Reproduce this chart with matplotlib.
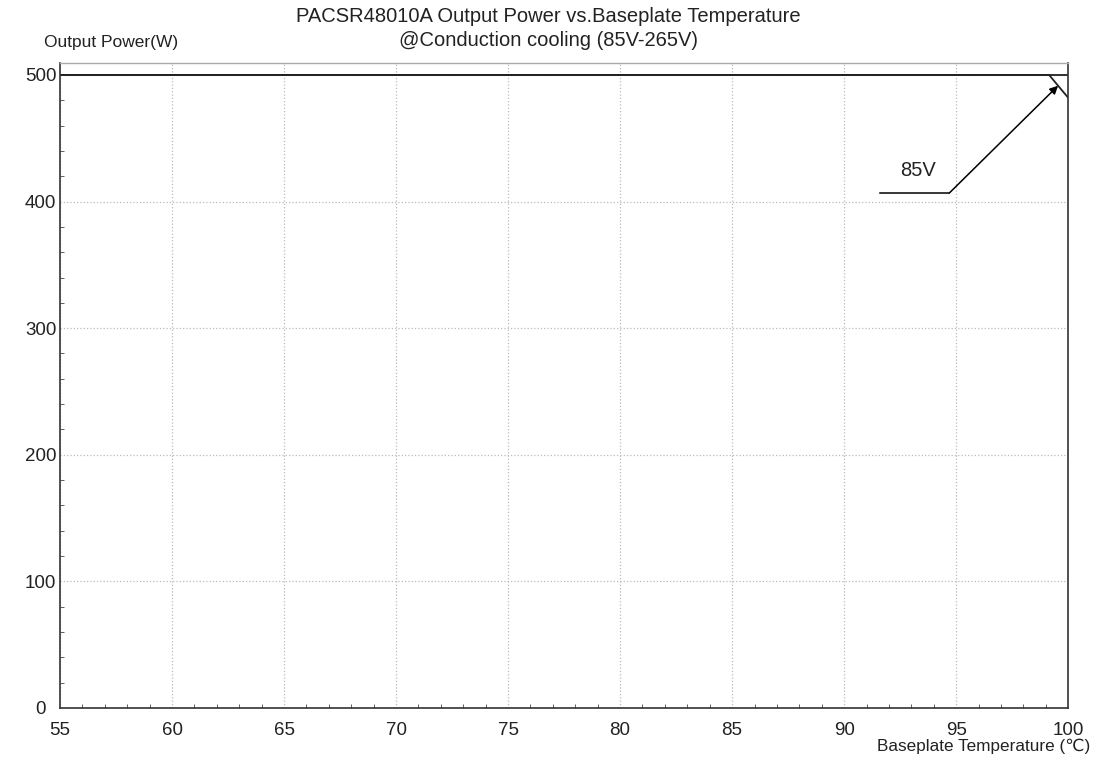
import matplotlib
matplotlib.use("Agg")
import matplotlib.pyplot as plt
from matplotlib.ticker import MultipleLocator

plt.rcParams['font.family'] = ['Liberation Sans', 'DejaVu Sans', 'Noto Sans CJK SC']

# derating data
temp_265 = [55, 100]
power_265 = [500, 500]
temp_85 = [55, 99.15, 100]
power_85 = [500, 500, 482]

title = "PACSR48010A Output Power vs.Baseplate Temperature\n@Conduction cooling (85V-265V)"
ylabel = "Output Power(W)"
xlabel = "Baseplate Temperature (\u2103)"

fig = plt.figure(figsize=(10.97, 7.58), dpi=100)
ax = fig.add_axes([0.0547, 0.066, 0.919, 0.851])

ax.plot(temp_265, power_265, color='#222222', lw=1.3)
ax.plot(temp_85, power_85, color='#222222', lw=1.3)

# 85V callout
ax.plot([91.6, 94.7], [406.8, 406.8], color='black', lw=1.1)
ax.annotate("", xy=(99.55, 491.5), xytext=(94.7, 406.8),
            arrowprops=dict(arrowstyle='-|>', color='black', lw=1.1,
                            mutation_scale=12, shrinkA=0, shrinkB=0))
ax.text(93.3, 417, "85V", fontsize=14.5, ha='center', va='bottom', color='#222222')

ax.set_xlim(55, 100)
ax.set_ylim(0, 509.5)
ax.xaxis.set_major_locator(MultipleLocator(5))
ax.xaxis.set_minor_locator(MultipleLocator(1))
ax.yaxis.set_major_locator(MultipleLocator(100))
ax.yaxis.set_minor_locator(MultipleLocator(20))
ax.tick_params(which='both', direction='in', colors='#444444', labelcolor='#222222',
               labelsize=13.5)
ax.tick_params(which='major', length=0)
ax.tick_params(which='minor', length=3)
ax.tick_params(axis='x', which='major', pad=10)
ax.tick_params(axis='y', which='major', pad=14)
for lbl in ax.get_yticklabels():
    lbl.set_horizontalalignment('center')
ax.grid(True, which='major', color='#bbbbbb', linestyle=':', lw=0.9)

for side in ['left', 'bottom', 'right']:
    ax.spines[side].set_color('#333333')
    ax.spines[side].set_linewidth(1.2)
ax.spines['top'].set_color('#aaaaaa')
ax.spines['top'].set_linewidth(1.0)

fig.text(0.5, 0.991, title, ha='center', va='top', fontsize=14.5, linespacing=1.35,
         color='#222222')
fig.text(0.101, 0.944, ylabel, ha='center', va='center', fontsize=12.5, color='#222222')
fig.text(0.994, 0.016, xlabel, ha='right', va='center', fontsize=12.3, color='#222222')

fig.savefig("out.png", dpi=100)
